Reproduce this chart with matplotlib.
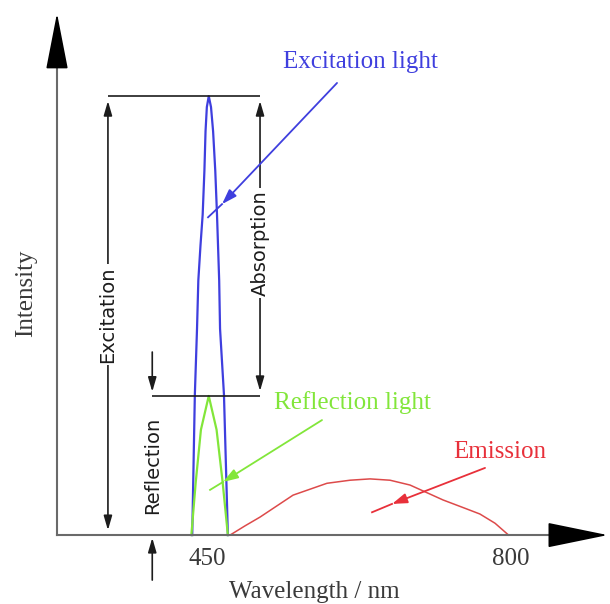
import matplotlib.pyplot as plt

# Spectra of the schematic: wavelength in nm, intensity relative to the excitation peak
excitation_nm = [433, 436, 438.5, 440, 442.5, 445, 447, 448.3, 449.8, 452,
                 454.6, 457, 459.5, 461.5, 464, 465, 469.5, 474]
excitation_int = [0, 0.32, 0.47, 0.58, 0.66, 0.73, 0.83, 0.92, 0.975, 1.0,
                  0.975, 0.92, 0.83, 0.73, 0.58, 0.47, 0.32, 0]

reflection_nm = [432, 437, 443, 452, 461, 468, 474]
reflection_int = [0, 0.12, 0.24, 0.317, 0.24, 0.12, 0]

emission_nm = [476.5, 493.7, 511, 549, 588, 614.6, 637.6, 660.6, 683.6, 721.6,
               746.9, 764, 781.4, 797]
emission_int = [0, 0.021, 0.041, 0.091, 0.118, 0.125, 0.128, 0.125, 0.114, 0.080,
                0.061, 0.048, 0.027, 0]

tick_nm = [450, 800]
tick_labels = ["450", "800"]

SERIF = "Liberation Serif"
SANS = "DejaVu Sans"
BLUE = "#3f3fde"
GREEN = "#82e63a"
RED = "#e8303a"
BLACK = "#1c1c1c"
GREY_TEXT = "#3a3a3a"

# horizontal positions of the dimension brackets (nm)
EXC_X, REF_X, ABS_X = 336, 387, 511
AXIS_X0 = 277.4

peak_exc = max(excitation_int)
peak_ref = max(reflection_int)


def leader(ax, start, head, end, color):
    """Pointer line from a label towards a curve, with an arrowhead part way."""
    ax.annotate("", xy=head, xytext=start,
                arrowprops=dict(arrowstyle="-|>,head_length=0.9,head_width=0.3",
                                color=color, lw=1.3, shrinkA=0, shrinkB=0,
                                mutation_scale=10))
    ax.plot([head[0], end[0]], [head[1], end[1]], color=color, lw=1.3)


def bracket(ax, x, y0, y1, style, shrink_a=3.5, shrink_b=3.5):
    ax.annotate("", xy=(x, y1), xytext=(x, y0),
                arrowprops=dict(arrowstyle=style, color=BLACK, lw=1.2,
                                shrinkA=shrink_a, shrinkB=shrink_b,
                                mutation_scale=10))


fig = plt.figure(figsize=(6.1, 6.04), dpi=100)
ax = fig.add_axes([0, 0, 1, 1])
ax.set_xlim(211.8, 913.7)
ax.set_ylim(-0.157, 1.219)

# axes drawn as arrows through the origin
for side in ("top", "right"):
    ax.spines[side].set_visible(False)
ax.spines["left"].set_position(("data", AXIS_X0))
ax.spines["left"].set_bounds(0, 1.10)
ax.spines["bottom"].set_position(("data", 0))
ax.spines["bottom"].set_bounds(AXIS_X0, 870)
for side in ("left", "bottom"):
    ax.spines[side].set_color("#6a6a6a")
    ax.spines[side].set_linewidth(1.5)

ax.annotate("", xy=(911, 0), xytext=(849, 0),
            arrowprops=dict(arrowstyle="-|>,head_length=3.9,head_width=0.8",
                            color="black", lw=1.2, shrinkA=0, shrinkB=0,
                            mutation_scale=10))
ax.annotate("", xy=(AXIS_X0, 1.189), xytext=(AXIS_X0, 1.075),
            arrowprops=dict(arrowstyle="-|>,head_length=3.6,head_width=0.7",
                            color="black", lw=1.2, shrinkA=0, shrinkB=0,
                            mutation_scale=10))

ax.set_yticks([])
ax.set_xticks(tick_nm, tick_labels)
ax.tick_params(axis="x", length=0, pad=9, labelsize=18, labelcolor=GREY_TEXT)
for lab in ax.get_xticklabels():
    lab.set_fontfamily(SERIF)

ax.text(573, -0.130, "Wavelength / nm", family=SERIF, fontsize=18,
        color=GREY_TEXT, ha="center", va="center")
ax.text(242, 0.551, "Intensity", family=SERIF, fontsize=18, color=GREY_TEXT,
        rotation=90, ha="center", va="center")

# spectra
ax.plot(excitation_nm, excitation_int, color=BLUE, lw=1.6, solid_joinstyle="round")
ax.plot(reflection_nm, reflection_int, color=GREEN, lw=1.6, solid_joinstyle="round")
ax.plot(emission_nm, emission_int, color="#dd4a4a", lw=1.1, solid_joinstyle="round")

# dimension brackets
ax.hlines(peak_exc, EXC_X, ABS_X, color=BLACK, lw=1.2)
ax.hlines(peak_ref, REF_X, ABS_X, color=BLACK, lw=1.2)
bracket(ax, EXC_X, peak_exc, 0, "<|-|>,head_length=0.86,head_width=0.25")
bracket(ax, ABS_X, peak_exc, peak_ref, "<|-|>,head_length=0.86,head_width=0.25")
bracket(ax, REF_X, peak_ref + 0.1, peak_ref, "-|>,head_length=0.86,head_width=0.25",
        shrink_a=0, shrink_b=3)
bracket(ax, REF_X, -0.1025, 0, "-|>,head_length=0.86,head_width=0.25",
        shrink_a=0, shrink_b=2)

label_box = dict(fc="white", ec="none", pad=1.5)
ax.text(EXC_X, 0.503, "Excitation", family=SANS, fontsize=14, color=BLACK,
        rotation=90, ha="center", va="center", bbox=label_box)
ax.text(ABS_X, 0.665, "Absorption", family=SANS, fontsize=14, color=BLACK,
        rotation=90, ha="center", va="center", bbox=label_box)
ax.text(REF_X, 0.159, "Reflection", family=SANS, fontsize=14, color=BLACK,
        rotation=90, ha="center", va="center", bbox=label_box)

# labelled pointers
ax.text(626.1, 1.077, "Excitation light", family=SERIF, fontsize=18, color=BLUE,
        ha="center", va="center")
leader(ax, (599.6, 1.030), (467.3, 0.754), (451.2, 0.724), BLUE)

ax.text(616.9, 0.301, "Reflection light", family=SERIF, fontsize=18, color=GREEN,
        ha="center", va="center")
leader(ax, (582.3, 0.262), (468.4, 0.121), (453.5, 0.103), GREEN)

ax.text(733, 0.189, "Emission", family=SERIF, fontsize=18, color=RED,
        ha="left", va="center")
leader(ax, (769.9, 0.153), (662.9, 0.071), (639.9, 0.052), RED)

fig.savefig("out.png", dpi=100)
